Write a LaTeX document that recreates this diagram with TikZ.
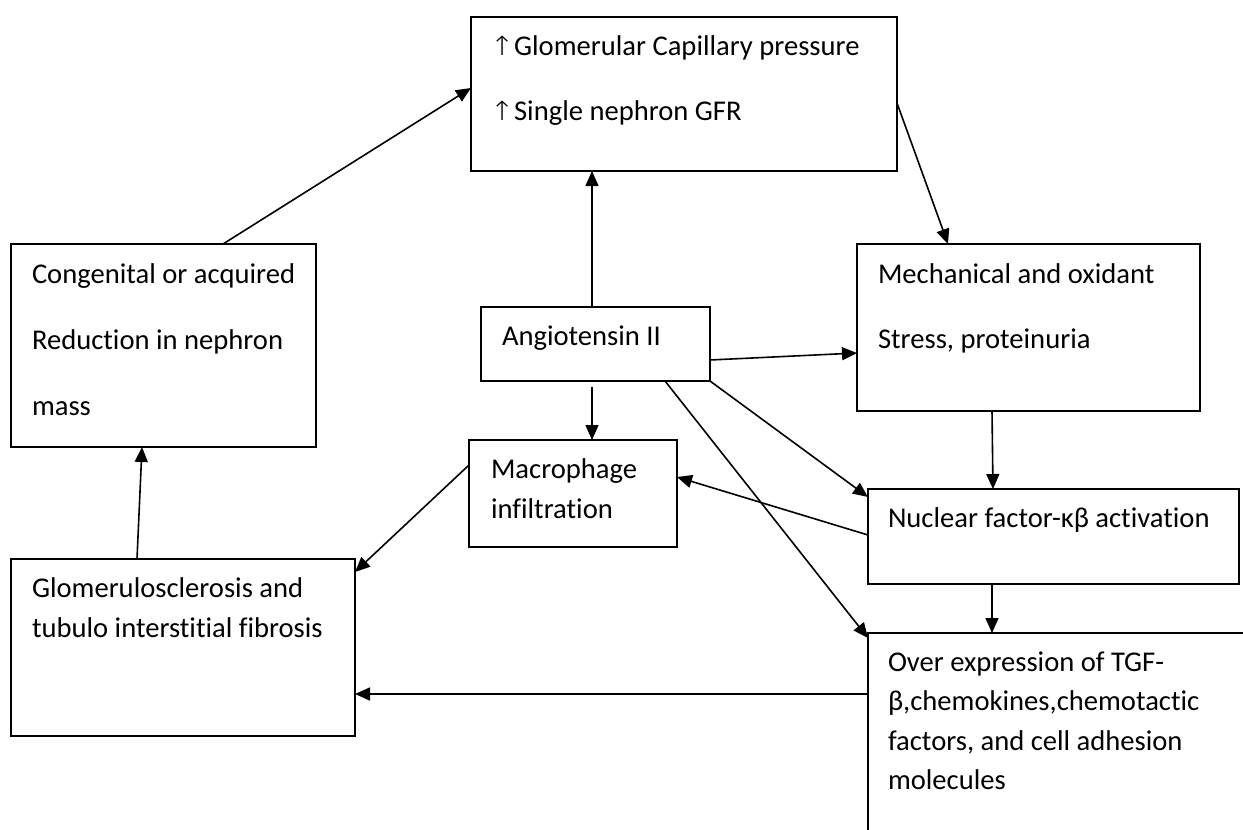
\documentclass[tikz,border=0pt]{standalone}
\usepackage{fontspec}
\setmainfont{Carlito}[Ligatures=NoCommon]
\newfontfamily\arrfont{DejaVu Sans ExtraLight}
\usetikzlibrary{arrows.meta,calc}
\newcommand{\uparr}{\scalebox{1.25}[1.15]{\arrfont\fontsize{23}{30}\selectfont ↑}}
\tikzset{
  box/.style={draw=black, line width=1.8pt, rectangle, inner sep=0pt, outer sep=0pt, anchor=north west},
  txt/.style={anchor=base west, inner sep=0pt, outer sep=0pt, font=\fontsize{28.6}{34}\selectfont},
  link/.style={line width=1.6pt, -{Triangle[length=15pt,width=13pt]}}
}
\begin{document}
\begin{tikzpicture}[x=1pt,y=-1pt]
\useasboundingbox (0,0) rectangle (1243,830);
\fill[white] (0,0) rectangle (1243,830);
\clip (0,0) rectangle (1243,830);
% boxes
\node[box, minimum width=426pt, minimum height=154pt] (top) at (471,17) {};
\node[box, minimum width=305pt, minimum height=203pt] (congen) at (11,244) {};
\node[box, minimum width=229pt, minimum height=74pt] (ang) at (481,307) {};
\node[box, minimum width=343pt, minimum height=167pt] (mech) at (857,244) {};
\node[box, minimum width=208pt, minimum height=107pt] (macro) at (469,440) {};
\node[box, minimum width=371pt, minimum height=95pt] (nfkb) at (868,489) {};
\node[box, minimum width=500pt, minimum height=300pt] (over) at (868,633) {};
\node[box, minimum width=344pt, minimum height=177pt] (glom) at (11,559) {};
% texts
\node[txt] (t1a) at (490,55) {\uparr Glomerular Capillary pressure};
\node[txt] (t1b) at (490,120) {\uparr Single nephron GFR};
\node[txt] (t2a) at (32,283) {Congenital or acquired};
\node[txt] (t2b) at (32,349) {Reduction in nephron};
\node[txt] (t2c) at (32,415) {mass};
\node[txt] (t3) at (502,345) {Angiotensin II};
\node[txt] (t4a) at (878,283) {Mechanical and oxidant};
\node[txt] (t4b) at (878,348) {Stress, proteinuria};
\node[txt] (t5a) at (491,478) {Macrophage};
\node[txt] (t5b) at (491,518) {infiltration};
\node[txt] (t6) at (888,527) {Nuclear factor-κβ activation};
\node[txt] (t7a) at (888,671) {Over expression of TGF-};
\node[txt] (t7b) at (888,710) {β,chemokines,chemotactic};
\node[txt] (t7c) at (888,750) {factors, and cell adhesion};
\node[txt] (t7d) at (888,789) {molecules};
\node[txt] (t8a) at (32,597) {Glomerulosclerosis and};
\node[txt] (t8b) at (32,637) {tubulo interstitial fibrosis};
% connectors
\draw[link] ($(congen.north west)+(212,0)$) -- ($(top.north west)+(0,71)$);
\draw[link] ($(ang.north west)+(111,0)$) -- ($(top.south west)+(121,0)$);
\draw[link] ($(top.north east)+(0,86)$) -- ($(mech.north west)+(91,0)$);
\draw[link] ($(ang.north east)+(0,53)$) -- ($(mech.north west)+(0,109)$);
\draw[link] ($(ang.south west)+(111,6)$) -- ($(macro.north west)+(123,0)$);
\draw[link] (ang.south east) -- ($(nfkb.north west)+(0,8)$);
\draw[link] ($(ang.south west)+(184,0)$) -- ($(over.north west)+(0,5)$);
\draw[link] ($(nfkb.north west)+(0,46)$) -- ($(macro.north east)+(0,37)$);
\draw[link] ($(mech.south west)+(135,0)$) -- ($(nfkb.north west)+(125,0)$);
\draw[link] ($(nfkb.south west)+(124,0)$) -- ($(over.north west)+(124,0)$);
\draw[link] ($(over.north west)+(0,61)$) -- ($(glom.north east)+(0,135)$);
\draw[link] ($(macro.north west)+(0,25)$) -- ($(glom.north east)+(0,13)$);
\draw[link] ($(glom.north west)+(126,0)$) -- ($(congen.south west)+(131,0)$);
\end{tikzpicture}
\end{document}
